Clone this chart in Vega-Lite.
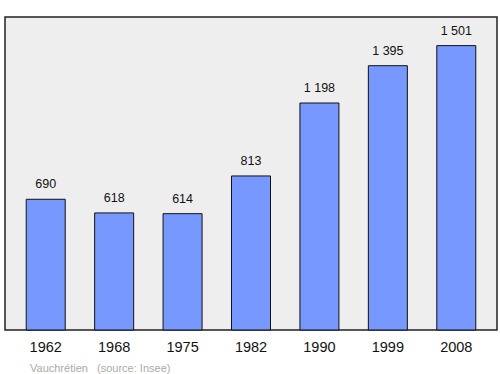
{
  "$schema": "https://vega.github.io/schema/vega-lite/v6.json",
  "width": 492,
  "height": 313,
  "autosize": {"type": "none"},
  "padding": {"left": 5, "top": 17, "right": 3, "bottom": 44},
  "background": "#ffffff",
  "config": {
    "view": {"fill": "#eeeeee", "stroke": "#222222", "strokeWidth": 1.5},
    "font": "Liberation Sans"
  },
  "title": {
    "text": "Vauchrétien\u00a0\u00a0\u00a0(source: Insee)",
    "orient": "bottom",
    "anchor": "start",
    "dx": 25,
    "offset": 9,
    "fontSize": 11,
    "fontWeight": "normal",
    "color": "#aaaaaa",
    "font": "Liberation Sans"
  },
  "data": {
    "values": [
      {"year": "1962", "pop": 690, "label": "690"},
      {"year": "1968", "pop": 618, "label": "618"},
      {"year": "1975", "pop": 614, "label": "614"},
      {"year": "1982", "pop": 813, "label": "813"},
      {"year": "1990", "pop": 1198, "label": "1 198"},
      {"year": "1999", "pop": 1395, "label": "1 395"},
      {"year": "2008", "pop": 1501, "label": "1 501"}
    ]
  },
  "encoding": {
    "x": {
      "field": "year",
      "type": "nominal",
      "sort": null,
      "scale": {"paddingInner": 0.43, "paddingOuter": 0.31},
      "axis": {
        "title": null,
        "domain": false,
        "ticks": false,
        "labelAngle": 0,
        "labelFontSize": 14.5,
        "labelColor": "#111111",
        "labelPadding": 10,
        "labelFont": "Liberation Sans"
      }
    },
    "y": {
      "field": "pop",
      "type": "quantitative",
      "scale": {"domain": [0, 1652], "nice": false},
      "axis": null
    }
  },
  "layer": [
    {
      "mark": {"type": "bar", "fill": "#7799ff", "stroke": "#111111", "strokeWidth": 1}
    },
    {
      "mark": {"type": "text", "baseline": "bottom", "dy": -8, "fontSize": 12.5, "color": "#111111", "font": "Liberation Sans"},
      "encoding": {"text": {"field": "label"}}
    }
  ]
}
